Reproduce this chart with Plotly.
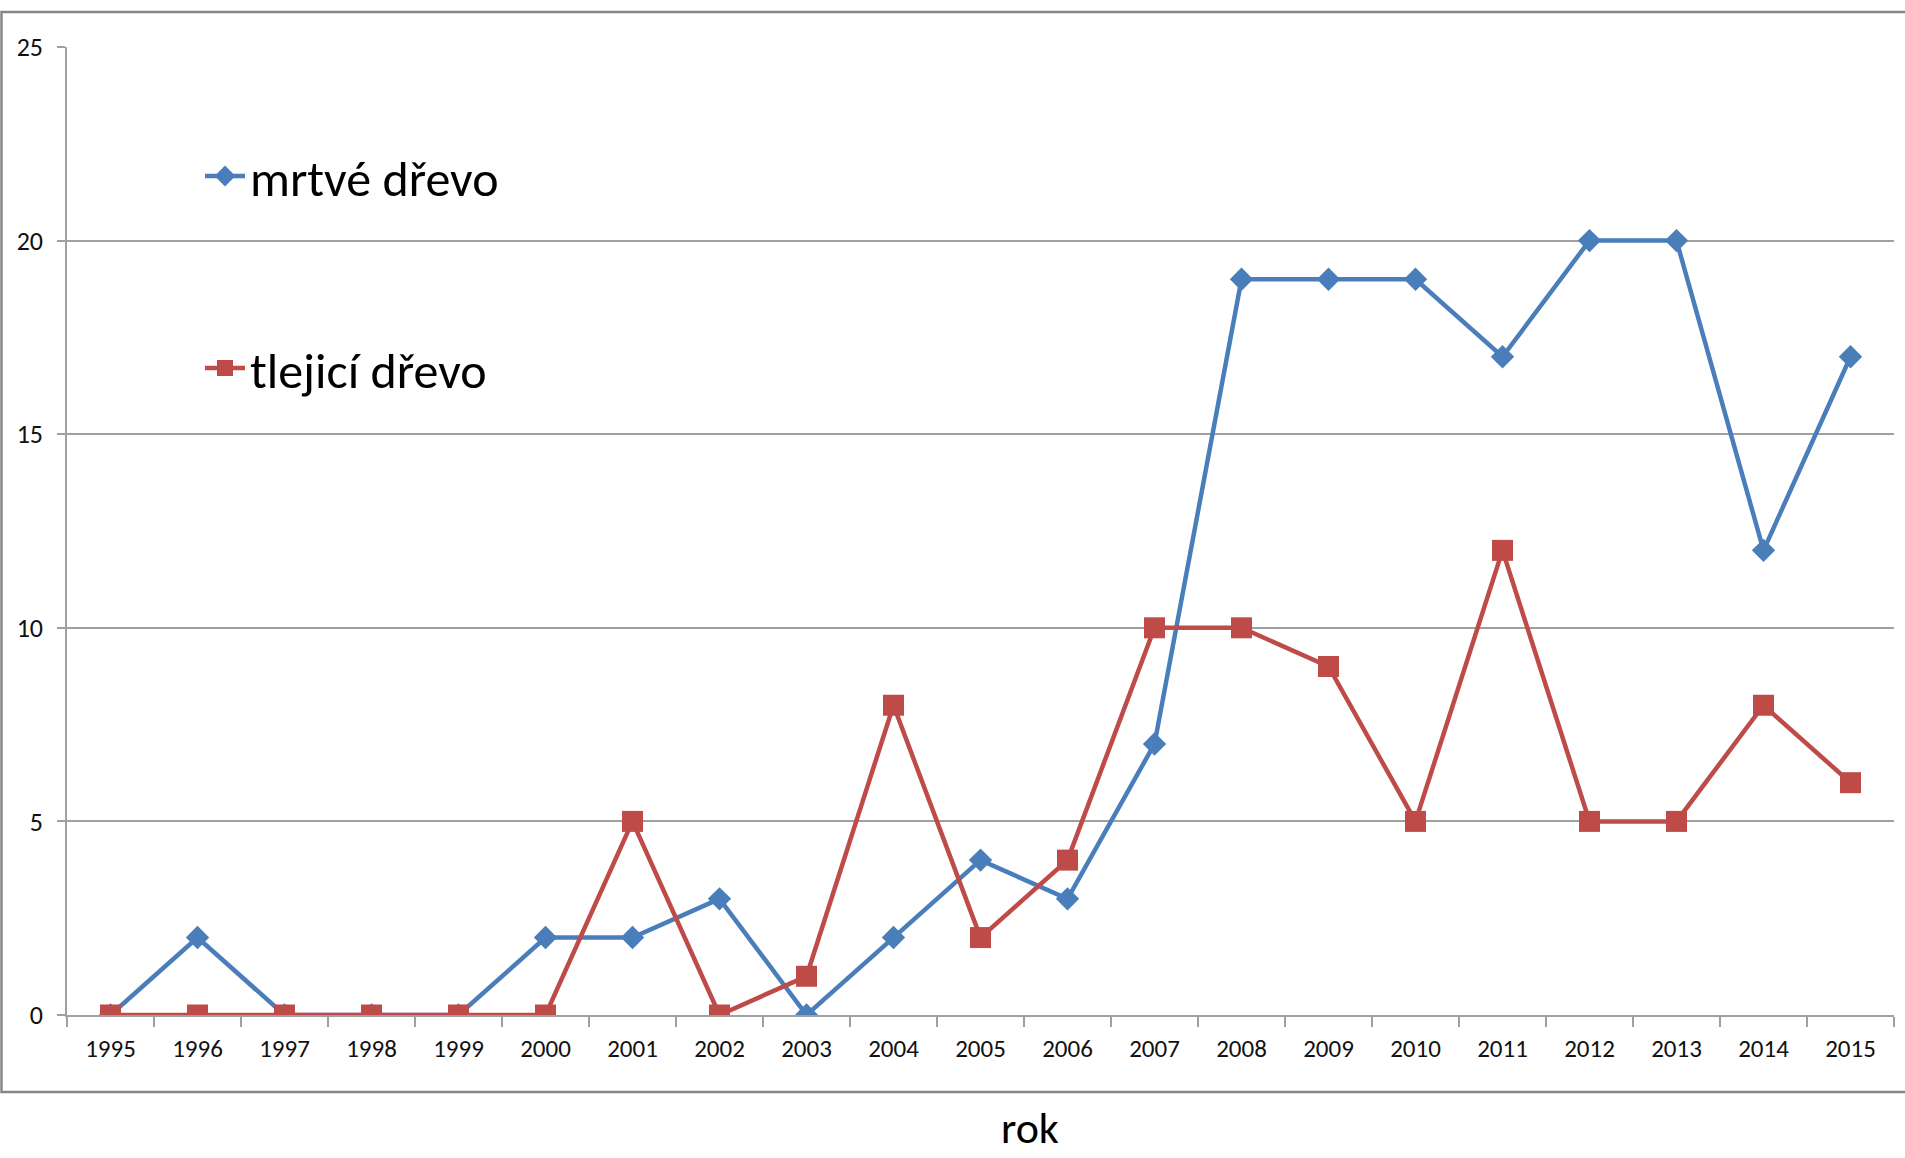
import plotly.graph_objects as go

# Yearly counts of records on two wood substrates
years = [str(y) for y in range(1995, 2016)]
mrtve_drevo = [0, 2, 0, 0, 0, 2, 2, 3, 0, 2, 4, 3, 7, 19, 19, 19, 17, 20, 20, 12, 17]
tlejici_drevo = [0, 0, 0, 0, 0, 0, 5, 0, 1, 8, 2, 4, 10, 10, 9, 5, 12, 5, 5, 8, 6]
y_ticks = [0, 5, 10, 15, 20, 25]

BLUE = "#4A7EBB"
RED = "#BE4B48"
GRID = "#A0A0A0"
FONT = "Calibri, Carlito, Lato, sans-serif"

W, H = 1905, 1158
L, R, T, B = 67, 11, 47, 143
pw, ph = W - L - R, H - T - B


def px_x(x):
    return (x - L) / pw


def px_y(y):
    return (H - B - y) / ph


fig = go.Figure()
fig.add_trace(go.Scatter(
    x=years, y=mrtve_drevo, name="mrtvé dřevo", mode="lines+markers",
    line=dict(color=BLUE, width=4.5),
    marker=dict(symbol="diamond", size=18, color=BLUE),
    legend="legend",
))
fig.add_trace(go.Scatter(
    x=years, y=tlejici_drevo, name="tlejicí dřevo", mode="lines+markers",
    line=dict(color=RED, width=4.5),
    marker=dict(symbol="square", size=21, color=RED),
    legend="legend2",
))

legend_common = dict(
    font=dict(family=FONT, size=50, color="#000000"),
    bgcolor="rgba(0,0,0,0)", borderwidth=0,
    xanchor="left", yanchor="middle", itemwidth=40,
)

fig.update_layout(
    width=W, height=H,
    margin=dict(l=L, r=R, t=T, b=B, autoexpand=False),
    paper_bgcolor="white", plot_bgcolor="white",
    font=dict(family=FONT, color="#111111"),
    showlegend=True,
    legend=dict(x=px_x(200), y=px_y(176), **legend_common),
    legend2=dict(x=px_x(200), y=px_y(368), **legend_common),
    xaxis=dict(
        type="category", range=[-0.5, len(years) - 0.5],
        tickson="boundaries", ticks="outside", ticklen=10, tickcolor=GRID,
        tickwidth=1.5, showline=True, linecolor=GRID, linewidth=1.5,
        showgrid=False, tickfont=dict(size=25, family=FONT, color="#111111"),
        ticklabelstandoff=10, fixedrange=True,
    ),
    yaxis=dict(
        range=[0, 25], tickvals=y_ticks, ticks="outside", ticklen=8,
        tickcolor=GRID, tickwidth=1.5, showline=True, linecolor=GRID,
        linewidth=1.5, showgrid=True, gridcolor=GRID, gridwidth=1.5,
        zeroline=False, tickfont=dict(size=26, family=FONT, color="#111111"),
        ticklabelstandoff=9, fixedrange=True,
    ),
    shapes=[dict(
        type="rect", xref="paper", yref="paper",
        x0=px_x(1.5), x1=px_x(1940), y0=px_y(1092), y1=px_y(12),
        line=dict(color="#868686", width=2.5), fillcolor="rgba(0,0,0,0)",
        layer="below",
    )],
    annotations=[dict(
        text="rok", xref="paper", yref="paper",
        x=px_x(1030), y=px_y(1128), xanchor="center", yanchor="middle",
        showarrow=False, font=dict(family=FONT, size=44, color="#000000"),
    )],
)

fig.write_html("out.html")
